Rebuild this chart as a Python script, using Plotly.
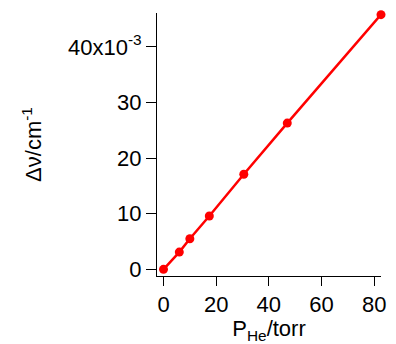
import plotly.graph_objects as go

pressure = [0, 6.0, 10.0, 17.4, 30.5, 47.0, 82.6]
shift = [0, 3.1, 5.5, 9.6, 17.1, 26.3, 45.8]
ytick_vals = [0, 10, 20, 30, 40]
ytick_text = ["0", "10", "20", "30", "40x10<sup>-3</sup>"]
xtick_vals = [0, 20, 40, 60, 80]

fig = go.Figure()
fig.add_trace(go.Scatter(
    x=pressure, y=shift, mode="lines+markers",
    line=dict(color="#ff0000", width=2.5),
    marker=dict(color="#ff0000", size=9),
    showlegend=False, cliponaxis=False,
))

font = dict(family="Liberation Sans, Arial, sans-serif", size=22, color="black")
fig.update_layout(
    width=396, height=344,
    margin=dict(l=157, r=10, t=13, b=68),
    paper_bgcolor="white", plot_bgcolor="white",
    font=font,
    xaxis=dict(range=[-2.47, 82.6], tickvals=xtick_vals, ticks="outside", ticklen=9,
               tickwidth=1, tickcolor="black", showline=True, linecolor="black",
               linewidth=1, showgrid=False, zeroline=False, tickfont=font,
               title=dict(text="P<sub>He</sub>/torr", standoff=0, font=font)),
    yaxis=dict(range=[-1.2, 46.1], tickvals=ytick_vals, ticktext=ytick_text,
               ticks="outside", ticklen=10, tickwidth=1, tickcolor="black",
               showline=True, linecolor="black", linewidth=1, showgrid=False,
               zeroline=False, tickfont=font,
               title=dict(text="Δν/cm<sup>-1</sup>", standoff=20, font=font)),
)
fig.write_html("out.html")
